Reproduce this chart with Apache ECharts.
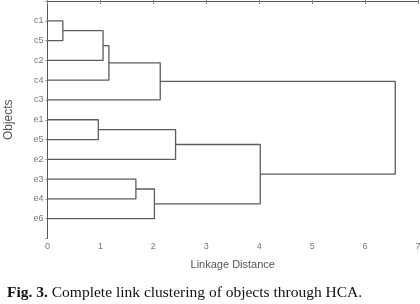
<!DOCTYPE html>
<html>
<head>
<meta charset="utf-8">
<script src="https://cdn.jsdelivr.net/npm/echarts@6/dist/echarts.min.js"></script>
<style>html,body{margin:0;padding:0;background:#fff}#c{width:420px;height:304px}</style>
</head>
<body>
<div id="c"></div>
<script>
// leaf order, top to bottom
var leaves = ['c1', 'c5', 'c2', 'c4', 'c3', 'e1', 'e5', 'e2', 'e3', 'e4', 'e6'];
// merge steps: [name, left child, right child, linkage distance]
var mergeNames = ['A', 'B', 'C', 'D', 'E', 'F', 'G', 'H', 'I', 'J'];
var mergeLeft = ['c1', 'A', 'B', 'C', 'e1', 'E', 'e3', 'G', 'F', 'D'];
var mergeRight = ['c5', 'c2', 'c4', 'c3', 'e5', 'e2', 'e4', 'e6', 'H', 'I'];
var mergeHeight = [0.29, 1.05, 1.16, 2.13, 0.96, 2.42, 1.67, 2.02, 4.02, 6.57];
var xTicks = [0, 1, 2, 3, 4, 5, 6, 7];

var pos = {}, hgt = {};
leaves.forEach(function (n, i) { pos[n] = i + 1; hgt[n] = 0; });
var series = [];
mergeNames.forEach(function (n, i) {
  var l = mergeLeft[i], r = mergeRight[i], h = mergeHeight[i];
  pos[n] = (pos[l] + pos[r]) / 2; hgt[n] = h;
  series.push({
    type: 'line', silent: true, symbol: 'none', animation: false,
    lineStyle: { color: '#5c5c5c', width: 1.3 },
    data: [[hgt[l], pos[l]], [h, pos[l]], [h, pos[r]], [hgt[r], pos[r]]]
  });
});

var chart = echarts.init(document.getElementById('c'), null, { renderer: 'canvas' });
var axisColor = '#555';
chart.setOption({
  animation: false,
  backgroundColor: '#fff',
  title: {
    text: '{b|Fig. 3.} Complete link clustering of objects through HCA.',
    left: 2, top: 280,
    textStyle: {
      fontFamily: 'Liberation Serif', fontSize: 15.5, fontWeight: 'normal', color: '#111',
      rich: { b: { fontFamily: 'Liberation Serif', fontSize: 15.5, fontWeight: 'bold', color: '#111' } }
    }
  },
  grid: { left: 47.5, right: 2, top: 1, bottom: 65.5, containLabel: false, outerBoundsMode: 'none' },
  xAxis: [{
    type: 'value', min: xTicks[0], max: xTicks[xTicks.length - 1], interval: 1,
    name: 'Linkage Distance', nameLocation: 'middle', nameGap: 21,
    nameTextStyle: { fontFamily: 'Arial, Liberation Sans', fontSize: 11, color: '#555' },
    axisLine: { lineStyle: { color: axisColor, width: 1 } },
    axisTick: { inside: true, length: 2, lineStyle: { color: '#888' } },
    axisLabel: { fontFamily: 'Arial, Liberation Sans', fontSize: 9, color: '#777', margin: 4 },
    splitLine: { show: false }
  }, {
    type: 'value', position: 'top', min: 0, max: 7, interval: 1,
    axisLine: { show: true, lineStyle: { color: axisColor, width: 1 } },
    axisTick: { show: true, inside: true, length: 3, lineStyle: { color: '#888' } },
    axisLabel: { show: false }, splitLine: { show: false }
  }],
  yAxis: [{
    type: 'value', inverse: true, min: 0, max: leaves.length + 1, interval: 1,
    name: 'Objects', nameLocation: 'middle', nameGap: 33, nameRotate: 90,
    nameTextStyle: { fontFamily: 'Arial, Liberation Sans', fontSize: 12, color: '#555' },
    axisLine: { show: true, lineStyle: { color: axisColor, width: 1 } },
    axisTick: { show: false },
    axisLabel: {
      fontFamily: 'Arial, Liberation Sans', fontSize: 9, color: '#777', margin: 4,
      formatter: function (v) { return leaves[v - 1] || ''; }
    },
    splitLine: { show: false }
  }, {
    type: 'value', inverse: true, position: 'right', min: 0, max: leaves.length + 1, interval: 1,
    axisLine: { show: true, lineStyle: { color: axisColor, width: 1 } },
    axisTick: { show: true, inside: true, length: 2, lineStyle: { color: '#888' } },
    axisLabel: { show: false }, splitLine: { show: false }
  }],
  series: series
});
</script>
</body>
</html>
